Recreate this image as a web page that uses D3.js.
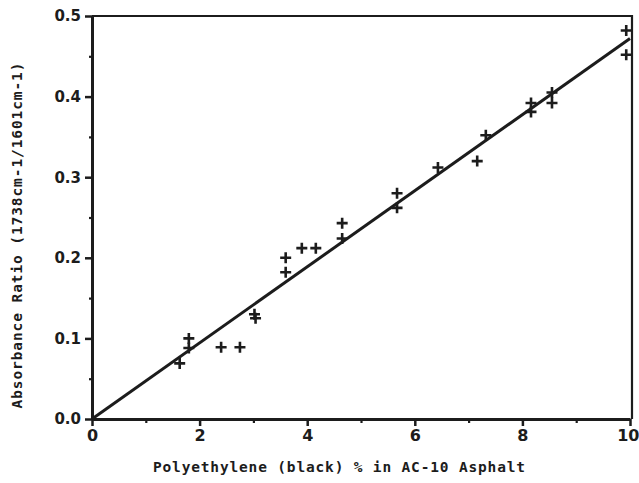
<!DOCTYPE html>
<html>
<head>
<meta charset="utf-8">
<script src="https://cdn.jsdelivr.net/npm/d3@7"></script>
<style>
  body { margin: 0; background: #fff; }
  svg { display: block; }
</style>
</head>
<body>
<script>
// measured points (x = % polyethylene, y = absorbance ratio)
const pctX = [1.63, 1.8, 1.8, 2.4, 2.75, 3.02, 3.04, 3.6, 3.6, 3.9, 4.16, 4.65, 4.65,
              5.67, 5.67, 6.43, 7.16, 7.32, 8.16, 8.16, 8.55, 8.55, 9.93, 9.93];
const ratioY = [0.069, 0.1, 0.088, 0.089, 0.089, 0.13, 0.125, 0.2, 0.182, 0.212, 0.212, 0.243, 0.224,
                0.28, 0.262, 0.312, 0.32, 0.352, 0.392, 0.381, 0.405, 0.392, 0.482, 0.452];

// least squares line end points
const fitX = [0, 10];
const fitY = [0, 0.472];

const xTicks = [0, 2, 4, 6, 8, 10];
const yTicks = [0.0, 0.1, 0.2, 0.3, 0.4, 0.5];

let w = 639,
    h = 483;
let margin = {top: 16, right: 9, bottom: 64, left: 92};

let svg = d3.select("body")
    .append("svg")
    .attr("width", w)
    .attr("height", h);

let x = d3.scaleLinear()
    .domain([0, 10])
    .range([margin.left, w - margin.right]);

let y = d3.scaleLinear()
    .domain([0, 0.5])
    .range([h - margin.bottom, margin.top]);

const ink = "#1c1c1c";

// frame (top and right)
svg.append("path")
    .attr("d", `M${x(0)},${y(0.5)}H${x(10) + 2}V${y(0)}`)
    .attr("fill", "none")
    .attr("stroke", ink)
    .attr("stroke-width", 2.2);

// minor ticks
svg.append("g")
    .attr("transform", `translate(0,${y(0)})`)
    .call(d3.axisBottom(x).tickValues([1, 3, 5, 7, 9]).tickSize(4).tickFormat(""))
    .call(g => g.select(".domain").remove())
    .selectAll("line").attr("stroke", ink).attr("stroke-width", 2.2);

svg.append("g")
    .attr("transform", `translate(${x(0)},0)`)
    .call(d3.axisLeft(y).tickValues([0.05, 0.15, 0.25, 0.35, 0.45]).tickSize(3).tickFormat(""))
    .call(g => g.select(".domain").remove())
    .selectAll("line").attr("stroke", ink).attr("stroke-width", 2.2);

// x axis
let xAxis = svg.append("g")
    .attr("transform", `translate(0,${y(0)})`)
    .call(d3.axisBottom(x).tickValues(xTicks).tickSize(7).tickSizeOuter(0).tickPadding(4).tickFormat(d3.format("d")));

xAxis.select(".domain").attr("stroke", ink).attr("stroke-width", 3);
xAxis.selectAll("line").attr("stroke", ink).attr("stroke-width", 2.5);
xAxis.selectAll("text")
    .attr("fill", ink)
    .style("font-family", "'DejaVu Sans', sans-serif")
    .style("font-weight", "bold")
    .style("font-size", "16px");
// last label sits against the right edge
xAxis.selectAll(".tick:last-of-type text")
    .attr("text-anchor", "end")
    .attr("dx", 9);

// y axis
let yAxis = svg.append("g")
    .attr("transform", `translate(${x(0)},0)`)
    .call(d3.axisLeft(y).tickValues(yTicks).tickSize(7).tickSizeOuter(0).tickPadding(4).tickFormat(d3.format(".1f")));

yAxis.select(".domain").attr("stroke", ink).attr("stroke-width", 3);
yAxis.selectAll("line").attr("stroke", ink).attr("stroke-width", 2.5);
yAxis.selectAll("text")
    .attr("fill", ink)
    .style("font-family", "'DejaVu Sans', sans-serif")
    .style("font-weight", "bold")
    .style("font-size", "15px");

// fit line
let line = d3.line()
    .x((d, i) => x(fitX[i]))
    .y(d => y(d));

svg.append("path")
    .datum(fitY)
    .attr("d", line)
    .attr("fill", "none")
    .attr("stroke", ink)
    .attr("stroke-width", 3);

// data markers
let pts = pctX.map((v, i) => ({x: v, y: ratioY[i]}));

svg.selectAll(".pt")
    .data(pts)
    .enter()
    .append("path")
    .attr("class", "pt")
    .attr("d", d => {
        let cx = x(d.x), cy = y(d.y), s = 5.5;
        return `M${cx - s},${cy}H${cx + s}M${cx},${cy - s}V${cy + s}`;
    })
    .attr("stroke", ink)
    .attr("stroke-width", 2.6)
    .attr("fill", "none");

// axis titles
svg.append("text")
    .attr("x", (x(0) + x(10)) / 2 - 22)
    .attr("y", h - 11)
    .attr("text-anchor", "middle")
    .attr("fill", ink)
    .style("font-family", "'DejaVu Sans Mono', monospace")
    .style("font-weight", "bold")
    .style("font-size", "14.5px")
    .attr("textLength", 372)
    .text("Polyethylene (black) % in AC-10 Asphalt");

svg.append("text")
    .attr("transform", `translate(22,${(y(0) + y(0.5)) / 2 + 18}) rotate(-90)`)
    .attr("text-anchor", "middle")
    .attr("fill", ink)
    .style("font-family", "'DejaVu Sans Mono', monospace")
    .style("font-weight", "bold")
    .style("font-size", "14.5px")
    .attr("textLength", 346)
    .text("Absorbance Ratio (1738cm-1/1601cm-1)");
</script>
</body>
</html>
